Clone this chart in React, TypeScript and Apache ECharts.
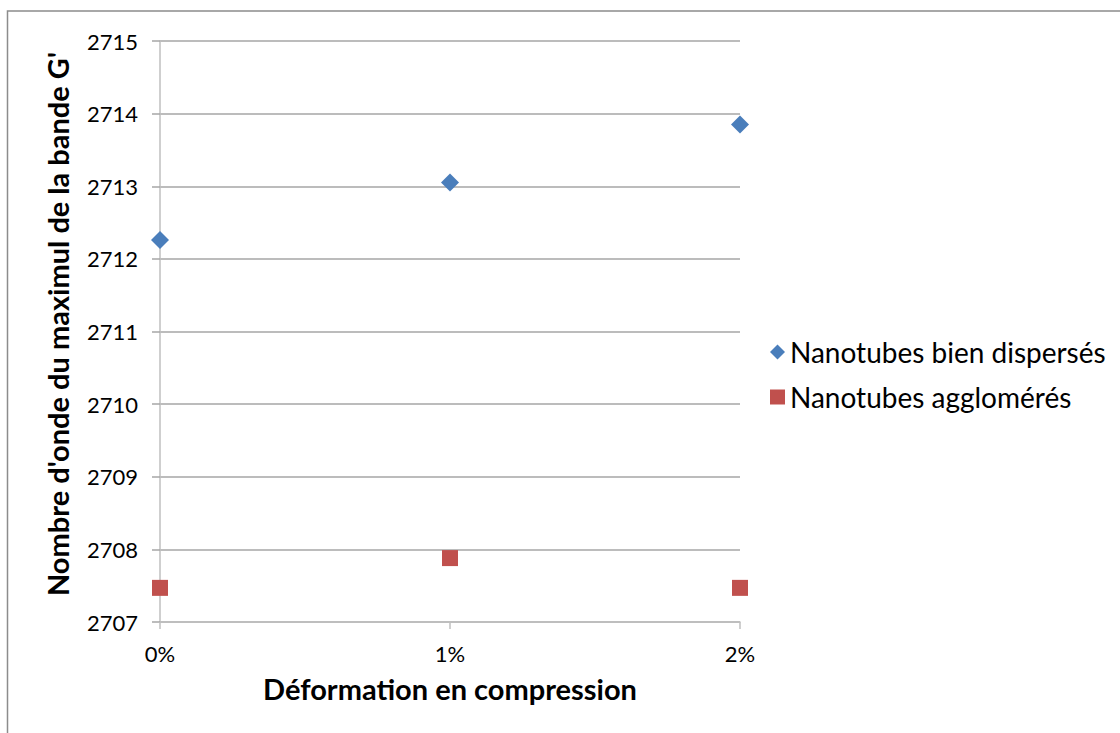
import React, { useEffect, useRef } from "react";
import * as echarts from "echarts";

const categories = ["0%", "1%", "2%"];
const seriesNames = ["Nanotubes bien dispersés", "Nanotubes agglomérés"];
const dispersed = [2712.26, 2713.05, 2713.85];
const agglomerated = [2707.47, 2707.88, 2707.47];
const yMin = 2707;
const yMax = 2715;
const yInterval = 1;
const xTitle = "Déformation en compression";
const yTitle = "Nombre d'onde du maximul de la bande G'";

const FONT = "Lato, 'Open Sans', sans-serif";

export default function App() {
  const ref = useRef<HTMLDivElement>(null);
  useEffect(() => {
    if (!ref.current) return;
    const chart = echarts.init(ref.current, undefined, { renderer: "svg" });
    chart.setOption({
      animation: false,
      backgroundColor: "#ffffff",
      textStyle: { fontFamily: FONT },
      grid: { left: 160, top: 41, right: 380, bottom: 111, containLabel: false },
      graphic: [
        {
          type: "rect",
          shape: { x: 7.5, y: 11, width: 1300, height: 900 },
          style: { fill: "none", stroke: "#8c8c8c", lineWidth: 1.5 },
          silent: true,
        },
        {
          type: "text",
          x: 57,
          y: 324,
          rotation: Math.PI / 2,
          style: {
            text: yTitle,
            fontFamily: FONT,
            fontSize: 29,
            fontWeight: "bold",
            fill: "#000",
            textAlign: "center",
            textVerticalAlign: "middle",
          },
        },
      ],
      legend: {
        orient: "vertical",
        left: 765,
        top: 331,
        itemWidth: 15,
        itemHeight: 15,
        itemGap: 13,
        textStyle: {
          fontFamily: FONT,
          fontSize: 28,
          color: "#000",
          lineHeight: 32,
          padding: [0, 0, 0, 0],
        },
        data: [
          { name: seriesNames[0], icon: "diamond" },
          { name: seriesNames[1], icon: "rect" },
        ],
      },
      xAxis: {
        type: "category",
        data: categories,
        boundaryGap: false,
        name: xTitle,
        nameLocation: "middle",
        nameGap: 52,
        nameTextStyle: { fontFamily: FONT, fontSize: 29, fontWeight: "bold", color: "#000" },
        axisLine: { lineStyle: { color: "#bfbfbf", width: 1.5 } },
        axisTick: { show: true, length: 7, alignWithLabel: true, lineStyle: { color: "#bfbfbf", width: 1.5 } },
        axisLabel: { fontFamily: FONT, fontSize: 22, color: "#000", margin: 20 },
        splitLine: { show: false },
      },
      yAxis: {
        type: "value",
        min: yMin,
        max: yMax,
        interval: yInterval,
        axisLine: { show: true, lineStyle: { color: "#bfbfbf", width: 1.5 } },
        axisTick: { show: true, length: 8, lineStyle: { color: "#a6a6a6", width: 1.5 } },
        axisLabel: {
          fontFamily: FONT,
          fontSize: 22,
          color: "#000",
          margin: 22,
          formatter: (v: number) => String(v),
        },
        splitLine: { show: true, lineStyle: { color: "#a6a6a6", width: 1.5 } },
      },
      series: [
        {
          name: seriesNames[0],
          type: "line",
          data: dispersed,
          symbol: "diamond",
          symbolSize: 18,
          showSymbol: true,
          lineStyle: { width: 0, opacity: 0 },
          itemStyle: { color: "#4A7EBB" },
          z: 3,
        },
        {
          name: seriesNames[1],
          type: "line",
          data: agglomerated,
          symbol: "rect",
          symbolSize: 16,
          showSymbol: true,
          lineStyle: { width: 0, opacity: 0 },
          itemStyle: { color: "#C0504D" },
          z: 3,
        },
      ],
    });
    return () => chart.dispose();
  }, []);
  return (
    <div
      ref={ref}
      style={{ position: "fixed", left: 0, top: 0, width: 1120, height: 733 }}
    />
  );
}
